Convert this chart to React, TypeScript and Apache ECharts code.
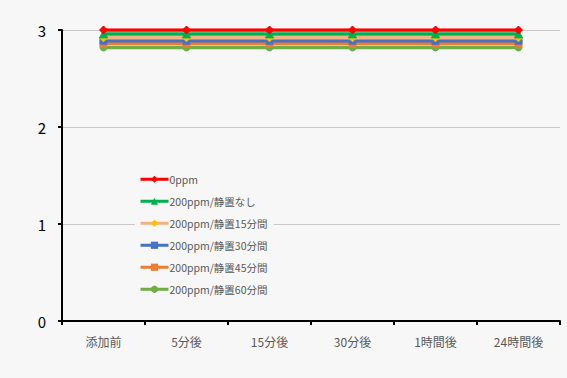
import React, { useEffect, useRef } from "react";
import * as echarts from "echarts";

// Sampling times after addition
const categories = ["添加前", "5分後", "15分後", "30分後", "1時間後", "24時間後"];

// Measured values per condition
const s0ppm = [3.0, 3.0, 3.0, 3.0, 3.0, 3.0];
const sNone = [2.96, 2.96, 2.96, 2.96, 2.96, 2.96];
const s15 = [2.92, 2.92, 2.92, 2.92, 2.92, 2.92];
const s30 = [2.89, 2.89, 2.89, 2.89, 2.89, 2.89];
const s45 = [2.86, 2.86, 2.86, 2.86, 2.86, 2.86];
const s60 = [2.82, 2.82, 2.82, 2.82, 2.82, 2.82];

const seriesNames = [
  "0ppm",
  "200ppm/静置なし",
  "200ppm/静置15分間",
  "200ppm/静置30分間",
  "200ppm/静置45分間",
  "200ppm/静置60分間",
];
const seriesData = [s0ppm, sNone, s15, s30, s45, s60];
const lineColors = ["#ff0000", "#00b050", "#f4b183", "#4472c4", "#ed7d31", "#70ad47"];
const markerColors = ["#ff0000", "#00b050", "#ffc000", "#4472c4", "#ed7d31", "#70ad47"];
const symbols = ["diamond", "triangle", "diamond", "rect", "rect", "circle"];
const symbolSizes = [8, 8, 8, 7, 7, 7];

const yTicks = [0, 1, 2, 3];

export default function App() {
  const ref = useRef<HTMLDivElement>(null);

  useEffect(() => {
    if (!ref.current) return;
    const chart = echarts.init(ref.current, undefined, { renderer: "svg" });
    const font = "'Noto Sans CJK JP', 'Noto Sans', sans-serif";
    chart.setOption({
      animation: false,
      backgroundColor: "#f7f7f7",
      textStyle: { fontFamily: font },
      grid: { left: 62, right: 7, top: 30, bottom: 57, containLabel: false },
      legend: {
        orient: "vertical",
        left: 135,
        top: 172,
        padding: [2, 6, 2, 4],
        itemWidth: 28,
        itemHeight: 9,
        itemGap: 11.5,
        backgroundColor: "#f7f7f7",
        data: seriesNames,
        lineStyle: { width: 3 },
        textStyle: { fontSize: 10.5, color: "#595959", fontFamily: font, padding: [0, 0, 0, -4] },
      },
      xAxis: {
        type: "category",
        data: categories,
        boundaryGap: true,
        axisLine: { lineStyle: { color: "#000", width: 2 } },
        axisTick: { show: true, length: 4, lineStyle: { color: "#000", width: 2 } },
        axisLabel: { color: "#595959", fontSize: 12, margin: 14, fontFamily: font },
      },
      yAxis: {
        type: "value",
        min: yTicks[0],
        max: yTicks[yTicks.length - 1],
        interval: 1,
        axisLine: { show: true, lineStyle: { color: "#000", width: 2 } },
        axisTick: { show: true, length: 4, lineStyle: { color: "#000", width: 2 } },
        axisLabel: { color: "#000", fontSize: 15, margin: 16, fontFamily: font },
        splitLine: { lineStyle: { color: "#c8c8c8", width: 1 } },
      },
      series: seriesNames.map((name, i) => ({
        name,
        type: "line",
        data: seriesData[i],
        symbol: symbols[i],
        symbolSize: symbolSizes[i],
        showSymbol: true,
        lineStyle: { color: lineColors[i], width: 3.5 },
        itemStyle: { color: markerColors[i], borderColor: markerColors[i] },
        z: 10 - i,
      })),
    });
    return () => chart.dispose();
  }, []);

  return (
    <div
      ref={ref}
      style={{ position: "fixed", left: 0, top: 0, width: 567, height: 378 }}
    />
  );
}
